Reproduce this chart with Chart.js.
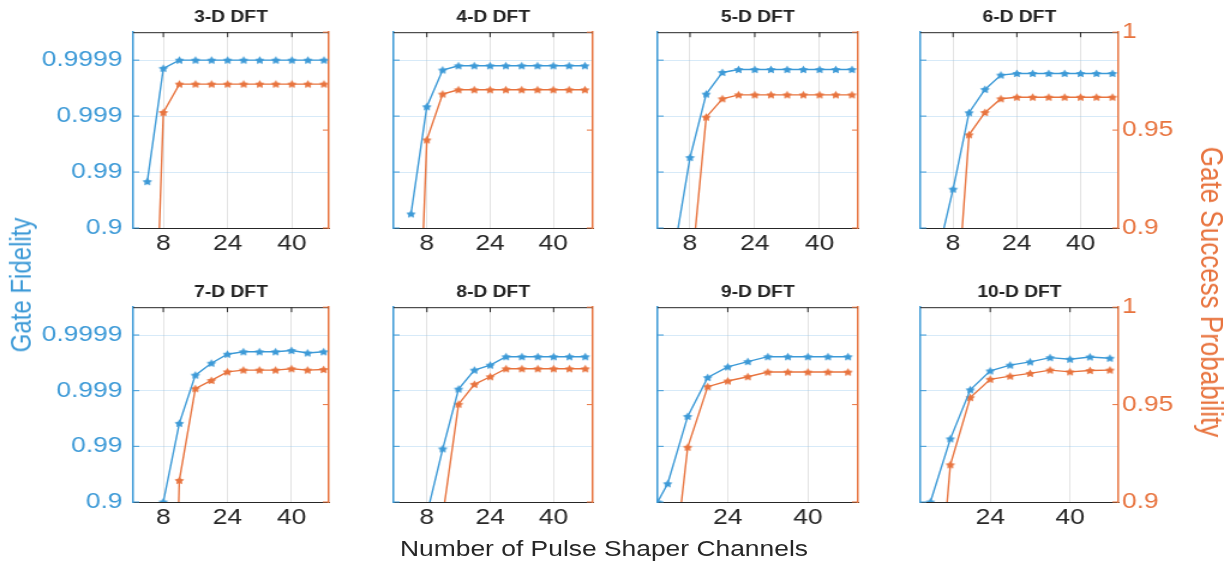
<!DOCTYPE html>
<html>
<head>
<meta charset="utf-8">
<script src="https://cdn.jsdelivr.net/npm/chart.js@4.4.1/dist/chart.umd.min.js"></script>
<style>
  body { margin: 0; background: #fff; width: 1232px; height: 562px; overflow: hidden; }
  #fig { position: absolute; left: 0; top: 0; height: 562px; transform-origin: 0 0; font-family: 'Liberation Sans', Arial, sans-serif; }
  #fig canvas { position: absolute; }
  .lab { position: absolute; white-space: nowrap; line-height: 1; z-index: 2; }
</style>
</head>
<body>
<div id="fig">
  <div class="lab" id="labL" style="color:#3d9ad7; font-size:24px;">Gate Fidelity</div>
  <div class="lab" id="labR" style="color:#e8743f; font-size:26px;">Gate Success Probability</div>
  <div class="lab" id="labX" style="color:#262626; font-size:22px;">Number of Pulse Shaper Channels</div>
</div>
<script>
// values
const titles = ['3-D DFT', '4-D DFT', '5-D DFT', '6-D DFT', '7-D DFT', '8-D DFT', '9-D DFT', '10-D DFT'];

const chFrom4 = [4, 8, 12, 16, 20, 24, 28, 32, 36, 40, 44, 48];
const chFrom8 = [8, 12, 16, 20, 24, 28, 32, 36, 40, 44, 48];
const chFrom10 = [10, 12, 16, 20, 24, 28, 32, 36, 40, 44, 48];
const chFrom12 = [12, 16, 20, 24, 28, 32, 36, 40, 44, 48];

// gate fidelity (left axis)
const fid3 = [0.9852, 0.99986, 0.9999, 0.9999, 0.9999, 0.9999, 0.9999, 0.9999, 0.9999, 0.9999, 0.9999, 0.9999];
const fid4 = [0.944, 0.99932, 0.99985, 0.999874, 0.999874, 0.999874, 0.999874, 0.999874, 0.999874, 0.999874, 0.999874, 0.999874];
const fid5 = [0.715, 0.9945, 0.999596, 0.999834, 0.999853, 0.999853, 0.999853, 0.999853, 0.999853, 0.999853, 0.999853, 0.999853];
const fid6 = [0.673, 0.9798, 0.99913, 0.999667, 0.999815, 0.999827, 0.999827, 0.999827, 0.999827, 0.999827, 0.999827, 0.999827];
const fid7 = [0.9, 0.99614, 0.999474, 0.999679, 0.999779, 0.9998, 0.9998, 0.9998, 0.99981, 0.99979, 0.9998];
const fid8 = [0.834, 0.9889, 0.999063, 0.999572, 0.999652, 0.999755, 0.999755, 0.999755, 0.999755, 0.999755, 0.999755];
const fid9 = [0.9, 0.9531, 0.9971, 0.99942, 0.999626, 0.9997, 0.999755, 0.999755, 0.999755, 0.999755, 0.999755];
const fid10 = [0.9, 0.99266, 0.999036, 0.999559, 0.999652, 0.999696, 0.999745, 0.999728, 0.999752, 0.999739];

// gate success probability (right axis)
const prob3 = [0.72, 0.959, 0.9735, 0.9735, 0.9735, 0.9735, 0.9735, 0.9735, 0.9735, 0.9735, 0.9735, 0.9735];
const prob4 = [0.733, 0.945, 0.9684, 0.9706, 0.9706, 0.9706, 0.9706, 0.9706, 0.9706, 0.9706, 0.9706, 0.9706];
const prob5 = [0.6, 0.871, 0.9566, 0.966, 0.968, 0.968, 0.968, 0.968, 0.968, 0.968, 0.968, 0.968];
const prob6 = [0.6, 0.836, 0.9476, 0.959, 0.966, 0.9668, 0.9668, 0.9668, 0.9668, 0.9668, 0.9668, 0.9668];
const prob7 = [0.6, 0.9111, 0.9582, 0.9624, 0.9668, 0.9677, 0.9677, 0.9677, 0.9684, 0.9677, 0.968];
const prob8 = [0.6, 0.8928, 0.9502, 0.9604, 0.9643, 0.9684, 0.9684, 0.9684, 0.9684, 0.9684, 0.9684];
const prob9 = [0.7, 0.8375, 0.9281, 0.9592, 0.9621, 0.9643, 0.9667, 0.9667, 0.9667, 0.9667, 0.9667];
const prob10 = [0.8, 0.9191, 0.9536, 0.963, 0.9646, 0.966, 0.9677, 0.9668, 0.9675, 0.9677];

const xTickVals = [8, 24, 40];
const fidTickVals = [1e-4, 1e-3, 1e-2, 1e-1];   // infidelity 1 - F
const probTickVals = [0.9, 0.95, 1];

const panels = [
  { ch: chFrom4, fid: fid3, prob: prob3 },
  { ch: chFrom4, fid: fid4, prob: prob4 },
  { ch: chFrom4, fid: fid5, prob: prob5 },
  { ch: chFrom4, fid: fid6, prob: prob6 },
  { ch: chFrom8, fid: fid7, prob: prob7 },
  { ch: chFrom8, fid: fid8, prob: prob8 },
  { ch: chFrom10, fid: fid9, prob: prob9 },
  { ch: chFrom12, fid: fid10, prob: prob10 }
];
const xMin = [0.5, -0.4, 0, -0.2, 0.5, -0.4, 10, 10];
const xMax = [49.2, 50, 49.5, 49.5, 49.3, 49.9, 50, 49.7];

// the source picture is stretched horizontally
const S = 1.2;
const BLUE = '#3d9ad7', ORANGE = '#e8743f', DARK = '#262626';
const FONT = "'Liberation Sans', Arial, sans-serif";
const ML = 90, MR = 90, MT = 31, MB = 40, TL = 5;
const colL = [133, 394, 657, 920], colR = [329, 593, 857, 1118];
const rowT = [32, 307], rowB = [228, 502];

const fig = document.getElementById('fig');
fig.style.width = (1232 / S) + 'px';
fig.style.transform = 'scaleX(' + S + ')';

function place(id, x, y, rot) {
  const el = document.getElementById(id);
  el.style.left = (x / S) + 'px';
  el.style.top = y + 'px';
  el.style.transform = 'translate(-50%,-50%)' + (rot ? ' rotate(' + rot + 'deg)' : '');
}
place('labL', 22, 285, -90);
place('labR', 1212, 292, 90);
place('labX', 604, 549, 0);

function starMarker(color) {
  const c = document.createElement('canvas');
  c.width = 11; c.height = 11;
  const g = c.getContext('2d');
  g.fillStyle = color;
  g.beginPath();
  for (let k = 0; k < 10; k++) {
    const r = k % 2 ? 2.3 : 4.2;
    const a = -Math.PI / 2 + k * Math.PI / 5;
    const px = 5.5 + r * Math.cos(a), py = 5.8 + r * Math.sin(a);
    k ? g.lineTo(px, py) : g.moveTo(px, py);
  }
  g.closePath();
  g.fill();
  return c;
}
const starB = starMarker(BLUE), starO = starMarker(ORANGE);

// box top line + inward ticks like the original
const boxTicks = {
  id: 'boxTicks',
  afterDraw(chart) {
    const { ctx, chartArea: a, scales } = chart;
    ctx.save();
    ctx.lineWidth = 1;
    ctx.strokeStyle = DARK;
    ctx.beginPath();
    ctx.moveTo(a.left, a.top + 0.5); ctx.lineTo(a.right, a.top + 0.5);
    scales.x.ticks.forEach(t => {
      const px = scales.x.getPixelForValue(t.value);
      ctx.moveTo(px, a.top); ctx.lineTo(px, a.top + TL);
    });
    ctx.stroke();
    ctx.strokeStyle = BLUE;
    ctx.beginPath();
    scales.yL.ticks.forEach(t => {
      const py = scales.yL.getPixelForValue(t.value);
      ctx.moveTo(a.left, py); ctx.lineTo(a.left + TL, py);
    });
    ctx.stroke();
    ctx.strokeStyle = ORANGE;
    ctx.beginPath();
    scales.yR.ticks.forEach(t => {
      const py = scales.yR.getPixelForValue(t.value);
      ctx.moveTo(a.right - TL, py); ctx.lineTo(a.right, py);
    });
    ctx.stroke();
    ctx.restore();
  }
};

panels.forEach((p, i) => {
  const col = i % 4, row = Math.floor(i / 4);
  const w = Math.round((colR[col] - colL[col]) / S);
  const h = rowB[row] - rowT[row];
  const cv = document.createElement('canvas');
  cv.width = w + ML + MR;
  cv.height = h + MT + MB;
  cv.style.width = cv.width + 'px';
  cv.style.height = cv.height + 'px';
  cv.style.left = (colL[col] / S - ML) + 'px';
  cv.style.top = (rowT[row] - MT) + 'px';
  fig.insertBefore(cv, fig.firstChild);

  new Chart(cv, {
    type: 'line',
    data: {
      datasets: [{
        data: p.ch.map((x, k) => ({ x: x, y: 1 - p.fid[k] })),
        yAxisID: 'yL',
        borderColor: BLUE,
        backgroundColor: BLUE,
        borderWidth: 1.4,
        pointStyle: starB,
        pointRadius: 4,
        tension: 0
      }, {
        data: p.ch.map((x, k) => ({ x: x, y: p.prob[k] })),
        yAxisID: 'yR',
        borderColor: ORANGE,
        backgroundColor: ORANGE,
        borderWidth: 1.4,
        pointStyle: starO,
        pointRadius: 4,
        tension: 0
      }]
    },
    options: {
      responsive: false,
      animation: false,
      events: [],
      layout: { padding: 0 },
      plugins: {
        legend: { display: false },
        tooltip: { enabled: false },
        title: {
          display: true,
          text: titles[i],
          color: '#222',
          font: { family: FONT, size: 16, weight: 'bold' },
          padding: { top: 7, bottom: 5 }
        }
      },
      scales: {
        x: {
          type: 'linear',
          min: xMin[i],
          max: xMax[i],
          afterBuildTicks: s => { s.ticks = xTickVals.filter(v => v >= s.min && v <= s.max).map(v => ({ value: v })); },
          afterFit: s => { s.height = MB; },
          grid: { color: '#e3e3e3', drawTicks: false },
          border: { color: DARK, width: 1 },
          ticks: { padding: 3, color: DARK, font: { family: FONT, size: 22 } }
        },
        yL: {
          type: 'logarithmic',
          position: 'left',
          reverse: true,
          min: Math.pow(10, -4.5),
          max: 0.1,
          afterBuildTicks: s => { s.ticks = fidTickVals.map(v => ({ value: v })); },
          afterFit: s => { s.width = ML; },
          grid: { color: 'rgba(140, 195, 235, 0.35)', drawTicks: false },
          border: { color: BLUE, width: 1.5 },
          ticks: {
            display: col === 0,
            padding: 9,
            color: BLUE,
            font: { family: FONT, size: 22 },
            callback: v => (1 - v).toFixed(Math.round(-Math.log10(v)))
          }
        },
        yR: {
          type: 'linear',
          position: 'right',
          min: 0.9,
          max: 1,
          afterBuildTicks: s => { s.ticks = probTickVals.map(v => ({ value: v })); },
          afterFit: s => { s.width = MR; },
          grid: { drawOnChartArea: false, drawTicks: false },
          border: { color: ORANGE, width: 1.5 },
          ticks: {
            display: col === 3,
            padding: 3,
            color: ORANGE,
            font: { family: FONT, size: 22 },
            callback: v => String(v)
          }
        }
      }
    },
    plugins: [boxTicks]
  });
});
</script>
</body>
</html>
